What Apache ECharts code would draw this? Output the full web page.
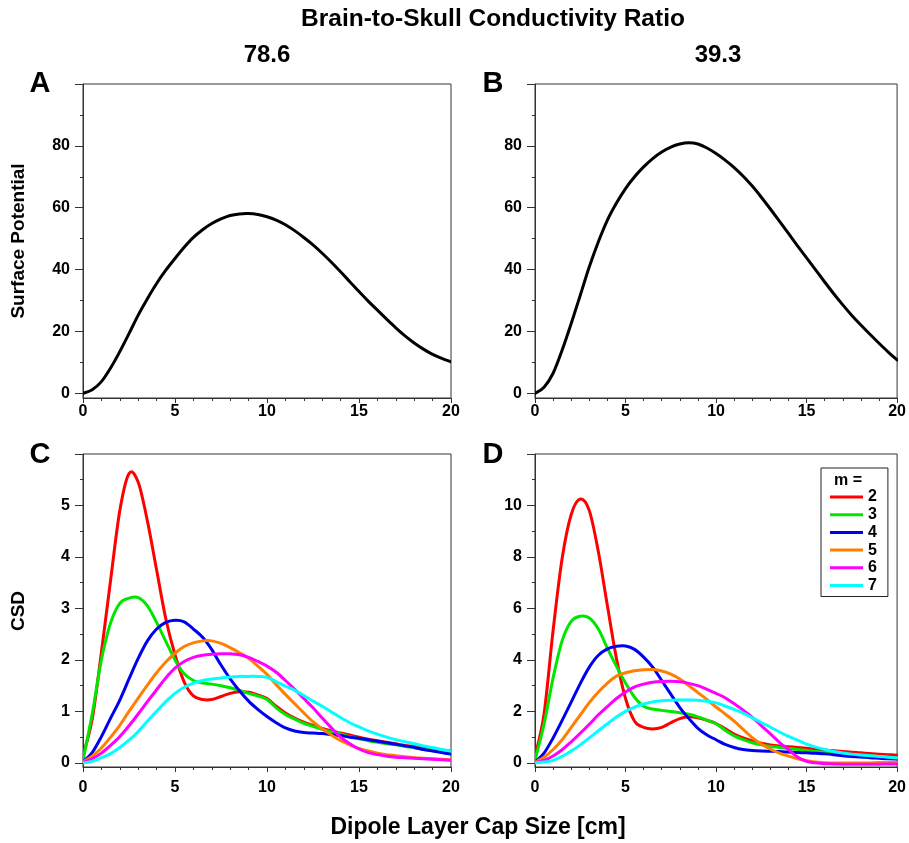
<!DOCTYPE html>
<html>
<head>
<meta charset="utf-8">
<script src="https://cdn.jsdelivr.net/npm/echarts@6/dist/echarts.min.js"></script>
<style>
  html, body { margin: 0; padding: 0; background: #fff; }
  #chart { width: 909px; height: 843px; }
</style>
</head>
<body>
<div id="chart"></div>
<script>
// Dipole layer cap size [cm], shared by every curve
const capSize = [0, 0.5, 1, 1.5, 2, 2.5, 3, 3.5, 4, 4.5, 5, 5.5, 6, 6.5, 7, 7.5, 8, 8.5, 9, 9.5, 10,
  10.5, 11, 11.5, 12, 12.5, 13, 13.5, 14, 14.5, 15, 15.5, 16, 16.5, 17, 17.5, 18, 18.5, 19, 19.5, 20];

// Surface potential, conductivity ratio 78.6 (panel A) and 39.3 (panel B)
const potential786 = [0, 1.2, 3.8, 8.2, 13.5, 19.3, 25.3, 30.6, 35.5, 39.8, 43.6, 47.2, 50.4, 52.9, 54.9, 56.4, 57.5, 58.0, 58.1, 57.8, 57.1,
  56.0, 54.5, 52.6, 50.4, 48.0, 45.3, 42.4, 39.3, 36.1, 32.9, 29.8, 26.9, 24.0, 21.2, 18.6, 16.3, 14.3, 12.6, 11.3, 10.2];
const potential393 = [0, 2.0, 6.5, 14.0, 22.6, 31.7, 40.9, 49.0, 56.0, 61.5, 66.2, 70.0, 73.2, 75.9, 78.0, 79.6, 80.6, 81.0, 80.6, 79.3, 77.5,
  75.4, 73.0, 70.2, 67.0, 63.4, 59.6, 55.7, 51.7, 47.7, 43.8, 39.9, 36.0, 32.2, 28.6, 25.2, 22.1, 19.1, 16.2, 13.4, 10.8];

// CSD for m = 2..7, conductivity ratio 78.6 (panel C)
const csd786_m2 = [0.15, 0.85, 2.15, 3.55, 4.9, 5.62, 5.45, 4.7, 3.75, 2.8, 2.1, 1.57, 1.3, 1.23, 1.23, 1.29, 1.35, 1.38, 1.37, 1.32, 1.25,
  1.1, 0.97, 0.87, 0.79, 0.73, 0.67, 0.62, 0.58, 0.54, 0.5, 0.46, 0.43, 0.4, 0.37, 0.34, 0.32, 0.29, 0.27, 0.25, 0.23];
const csd786_m3 = [0.05, 0.95, 2.0, 2.72, 3.1, 3.2, 3.21, 3.05, 2.73, 2.36, 2.0, 1.73, 1.6, 1.55, 1.53, 1.5, 1.46, 1.41, 1.35, 1.3, 1.23,
  1.07, 0.94, 0.85, 0.77, 0.71, 0.65, 0.6, 0.56, 0.51, 0.47, 0.43, 0.4, 0.37, 0.35, 0.32, 0.3, 0.27, 0.24, 0.21, 0.19];
const csd786_m4 = [0.02, 0.2, 0.51, 0.87, 1.22, 1.63, 2.03, 2.37, 2.6, 2.73, 2.77, 2.74, 2.6, 2.44, 2.2, 1.9, 1.63, 1.4, 1.2, 1.04, 0.9,
  0.78, 0.68, 0.62, 0.59, 0.58, 0.57, 0.55, 0.53, 0.5, 0.48, 0.45, 0.42, 0.39, 0.36, 0.33, 0.3, 0.26, 0.23, 0.2, 0.17];
const csd786_m5 = [0.02, 0.13, 0.29, 0.5, 0.73, 1.0, 1.26, 1.51, 1.75, 1.96, 2.13, 2.26, 2.33, 2.37, 2.37, 2.32, 2.24, 2.14, 2.03, 1.88, 1.72,
  1.52, 1.33, 1.15, 0.97, 0.8, 0.66, 0.54, 0.43, 0.35, 0.28, 0.23, 0.19, 0.16, 0.14, 0.12, 0.1, 0.09, 0.08, 0.07, 0.06];
const csd786_m6 = [0.01, 0.08, 0.19, 0.34, 0.51, 0.72, 0.95, 1.19, 1.42, 1.65, 1.84, 1.97, 2.05, 2.09, 2.11, 2.12, 2.12, 2.1, 2.05, 1.97, 1.88,
  1.76, 1.6, 1.43, 1.25, 1.07, 0.87, 0.68, 0.5, 0.37, 0.27, 0.2, 0.16, 0.13, 0.11, 0.1, 0.09, 0.08, 0.07, 0.06, 0.05];
const csd786_m7 = [0, 0.03, 0.1, 0.18, 0.3, 0.44, 0.61, 0.81, 1.0, 1.19, 1.35, 1.47, 1.55, 1.6, 1.63, 1.65, 1.67, 1.68, 1.68, 1.68, 1.66,
  1.58, 1.49, 1.41, 1.31, 1.2, 1.1, 0.99, 0.88, 0.78, 0.7, 0.62, 0.56, 0.5, 0.45, 0.41, 0.37, 0.33, 0.3, 0.26, 0.23];

// CSD for m = 2..7, conductivity ratio 39.3 (panel D)
const csd393_m2 = [0.25, 1.9, 5.15, 7.95, 9.65, 10.25, 9.8, 8.2, 6.1, 4.05, 2.5, 1.62, 1.38, 1.32, 1.38, 1.56, 1.72, 1.79, 1.75, 1.65, 1.53,
  1.33, 1.12, 0.97, 0.85, 0.76, 0.7, 0.66, 0.63, 0.6, 0.57, 0.53, 0.5, 0.47, 0.44, 0.41, 0.39, 0.36, 0.34, 0.32, 0.3];
const csd393_m3 = [0.1, 1.5, 3.3, 4.75, 5.5, 5.7, 5.63, 5.2, 4.45, 3.75, 3.1, 2.55, 2.2, 2.09, 2.04, 2.0, 1.95, 1.89, 1.79, 1.66, 1.52,
  1.27, 1.05, 0.9, 0.78, 0.7, 0.64, 0.6, 0.56, 0.52, 0.48, 0.44, 0.41, 0.38, 0.35, 0.32, 0.3, 0.27, 0.25, 0.22, 0.2];
const csd393_m4 = [0.03, 0.38, 0.97, 1.65, 2.36, 3.08, 3.72, 4.18, 4.43, 4.53, 4.54, 4.41, 4.11, 3.72, 3.2, 2.67, 2.15, 1.72, 1.34, 1.08, 0.9,
  0.72, 0.6, 0.52, 0.48, 0.46, 0.45, 0.44, 0.42, 0.4, 0.39, 0.37, 0.35, 0.32, 0.28, 0.25, 0.23, 0.2, 0.18, 0.16, 0.15];
const csd393_m5 = [0.02, 0.22, 0.52, 0.9, 1.38, 1.86, 2.34, 2.75, 3.1, 3.37, 3.5, 3.58, 3.62, 3.63, 3.57, 3.45, 3.26, 3.0, 2.73, 2.46, 2.17,
  1.9, 1.62, 1.3, 0.98, 0.73, 0.53, 0.38, 0.26, 0.16, 0.09, 0.03, 0.01, 0, 0, 0, 0, 0, 0.01, 0.01, 0.02];
const csd393_m6 = [0.01, 0.1, 0.27, 0.51, 0.82, 1.15, 1.5, 1.87, 2.19, 2.5, 2.75, 2.95, 3.06, 3.13, 3.16, 3.17, 3.15, 3.09, 3.0, 2.86, 2.7,
  2.53, 2.3, 2.05, 1.77, 1.45, 1.13, 0.8, 0.52, 0.23, 0.06, 0, -0.03, -0.04, -0.05, -0.05, -0.05, -0.05, -0.05, -0.04, -0.04];
const csd393_m7 = [0, 0.03, 0.1, 0.25, 0.46, 0.7, 0.97, 1.25, 1.52, 1.78, 2.0, 2.17, 2.29, 2.37, 2.41, 2.43, 2.44, 2.44, 2.43, 2.39, 2.33,
  2.21, 2.08, 1.93, 1.75, 1.57, 1.39, 1.2, 1.03, 0.88, 0.73, 0.61, 0.52, 0.44, 0.38, 0.34, 0.31, 0.28, 0.25, 0.22, 0.19];

const modeNames = ['2', '3', '4', '5', '6', '7'];
const modeColors = ['#ff0000', '#00e600', '#0000f0', '#ff7f00', '#ff00ff', '#00ffff'];
const csd786 = [csd786_m2, csd786_m3, csd786_m4, csd786_m5, csd786_m6, csd786_m7];
const csd393 = [csd393_m2, csd393_m3, csd393_m4, csd393_m5, csd393_m6, csd393_m7];

// Tick positions
const potentialMajor = [0, 20, 40, 60, 80, 100];
const potentialLabels = [0, 20, 40, 60, 80];
const potentialMinor = [10, 30, 50, 70, 90];
const csd786Major = [0, 1, 2, 3, 4, 5, 6];
const csd786Labels = [0, 1, 2, 3, 4, 5];
const csd786Minor = [0.5, 1.5, 2.5, 3.5, 4.5, 5.5];
const csd393Major = [0, 2, 4, 6, 8, 10, 12];
const csd393Labels = [0, 2, 4, 6, 8, 10];
const csd393Minor = [1, 3, 5, 7, 9, 11];

const FONT = '"Liberation Sans", Arial, Helvetica, sans-serif';
const AXIS_COLOR = '#333';

function pairs(ys) {
  return capSize.map((x, i) => [x, ys[i]]);
}

// A smooth (Catmull-Rom) curve through the points, positioned by the axes of its grid
function curveSeries(name, ys, xAxisIndex, yAxisIndex, color) {
  return {
    type: 'custom', name: name, xAxisIndex: xAxisIndex, yAxisIndex: yAxisIndex,
    data: pairs(ys), clip: true, itemStyle: { color: color },
    renderItem: function (params, api) {
      if (params.dataIndex !== 0) return null;
      const pts = capSize.map((x, i) => api.coord([x, ys[i]]));
      const n = pts.length;
      let d = 'M' + pts[0][0] + ' ' + pts[0][1];
      for (let i = 0; i < n - 1; i++) {
        const p0 = pts[Math.max(0, i - 1)], p1 = pts[i], p2 = pts[i + 1], p3 = pts[Math.min(n - 1, i + 2)];
        const c1x = p1[0] + (p2[0] - p0[0]) / 6, c1y = p1[1] + (p2[1] - p0[1]) / 6;
        const c2x = p2[0] - (p3[0] - p1[0]) / 6, c2y = p2[1] - (p3[1] - p1[1]) / 6;
        d += ' C' + c1x + ' ' + c1y + ' ' + c2x + ' ' + c2y + ' ' + p2[0] + ' ' + p2[1];
      }
      return {
        type: 'path', shape: { pathData: d },
        style: { fill: null, stroke: color, lineWidth: 3, lineJoin: 'round', lineCap: 'round' }
      };
    }
  };
}

function xAxisFor(grid, labelMargin) {
  return {
    type: 'value', gridIndex: grid, min: 0, max: 20, interval: 5,
    axisLine: { show: true, onZero: false, lineStyle: { color: AXIS_COLOR, width: 1 } },
    axisTick: { show: true, length: 5, lineStyle: { color: AXIS_COLOR, width: 1 } },
    minorTick: { show: true, splitNumber: 5, length: 3, lineStyle: { color: AXIS_COLOR, width: 1 } },
    axisLabel: { margin: labelMargin, color: '#000', fontSize: 16, fontWeight: 'bold', fontFamily: FONT },
    splitLine: { show: false }, minorSplitLine: { show: false }
  };
}

function yAxesFor(grid, min, max, major, labels, minor) {
  return [
    {
      type: 'value', gridIndex: grid, min: min, max: max, position: 'left',
      axisLine: { show: true, onZero: false, lineStyle: { color: AXIS_COLOR, width: 1 } },
      axisTick: { show: true, length: 8, customValues: major, lineStyle: { color: AXIS_COLOR, width: 1 } },
      axisLabel: { show: true, customValues: labels, margin: 13, color: '#000', fontSize: 16, fontWeight: 'bold', fontFamily: FONT },
      splitLine: { show: false }
    },
    {
      type: 'value', gridIndex: grid, min: min, max: max, position: 'left',
      axisLine: { show: false },
      axisTick: { show: true, length: 3, customValues: minor, lineStyle: { color: AXIS_COLOR, width: 1 } },
      axisLabel: { show: false },
      splitLine: { show: false }
    }
  ];
}

const gridStyle = { show: true, borderColor: AXIS_COLOR, borderWidth: 1, backgroundColor: 'transparent', containLabel: false };

const series = [
  curveSeries('A', potential786, 0, 0, '#000'),
  curveSeries('B', potential393, 1, 2, '#000')
];
modeNames.forEach((m, i) => series.push(curveSeries(m, csd786[i], 2, 4, modeColors[i])));
modeNames.forEach((m, i) => series.push(curveSeries(m, csd393[i], 3, 6, modeColors[i])));

function label(text, x, y, size, extra) {
  return Object.assign({
    type: 'text', x: x, y: y, z: 100,
    style: { text: text, fill: '#000', font: 'bold ' + size + 'px ' + FONT, align: 'center', verticalAlign: 'middle' }
  }, extra || {});
}

const option = {
  animation: false,
  backgroundColor: '#fff',
  grid: [
    Object.assign({ left: 83, top: 84, width: 368, height: 314 }, gridStyle),
    Object.assign({ left: 535, top: 84, width: 367, height: 314 }, gridStyle),
    Object.assign({ left: 83, top: 454, width: 368, height: 313 }, gridStyle),
    Object.assign({ left: 535, top: 454, width: 367, height: 313 }, gridStyle)
  ],
  xAxis: [xAxisFor(0, 6), xAxisFor(1, 6), xAxisFor(2, 13), xAxisFor(3, 13)],
  yAxis: [].concat(
    yAxesFor(0, -1.5, 100, potentialMajor, potentialLabels, potentialMinor),
    yAxesFor(1, -1.5, 100, potentialMajor, potentialLabels, potentialMinor),
    yAxesFor(2, -0.08, 6, csd786Major, csd786Labels, csd786Minor),
    yAxesFor(3, -0.16, 12, csd393Major, csd393Labels, csd393Minor)
  ),
  legend: {
    data: modeNames, orient: 'vertical', left: 821, top: 468,
    padding: [21, 11, 3, 9], itemWidth: 33, itemHeight: 3, itemGap: 1.7, icon: 'rect',
    borderColor: '#222', borderWidth: 1, backgroundColor: '#fff', selectedMode: false,
    textStyle: { fontSize: 16, fontWeight: 'bold', fontFamily: FONT, color: '#000', lineHeight: 16 }
  },
  graphic: [
    label('Brain-to-Skull Conductivity Ratio', 493, 19, 24.5),
    label('78.6', 267, 55, 24),
    label('39.3', 718, 55, 24),
    label('A', 40, 84, 29),
    label('B', 493, 84, 29),
    label('C', 40, 455, 29),
    label('D', 493, 455, 29),
    label('Surface Potential', 19, 241, 19, { rotation: Math.PI / 2 }),
    label('CSD', 19, 611, 19, { rotation: Math.PI / 2 }),
    label('Dipole Layer Cap Size [cm]', 478, 828, 23),
    label('m =', 848, 481, 16)
  ],
  series: series
};

const chart = echarts.init(document.getElementById('chart'), null, { renderer: 'canvas', width: 909, height: 843 });
chart.setOption(option);
</script>
</body>
</html>
